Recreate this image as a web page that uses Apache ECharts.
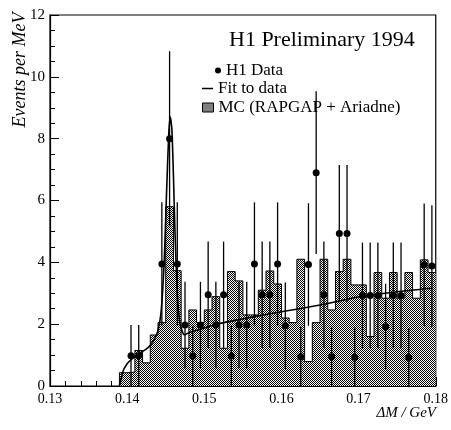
<!DOCTYPE html>
<html>
<head>
<meta charset="utf-8">
<script src="https://cdn.jsdelivr.net/npm/echarts@6/dist/echarts.min.js"></script>
<style>
html, body { margin: 0; padding: 0; background: #fff; }
#chart { width: 451px; height: 430px; }
</style>
</head>
<body>
<div id="chart"></div>
<script>
// MC histogram: 1 MeV bins, edges and heights
var binEdges = [0.139, 0.140, 0.141, 0.142, 0.143, 0.144, 0.145, 0.146, 0.147, 0.148,
    0.149, 0.150, 0.151, 0.152, 0.153, 0.154, 0.155, 0.156, 0.157, 0.158,
    0.159, 0.160, 0.161, 0.162, 0.163, 0.164, 0.165, 0.166, 0.167, 0.168,
    0.169, 0.170, 0.171, 0.172, 0.173, 0.174, 0.175, 0.176, 0.177, 0.178,
    0.179, 0.180];
var mcValues = [0.43, 0.45, 1.15, 0.75, 1.65, 2.05, 5.8, 3.73, 1.22, 2.46,
    2.05, 2.46, 2.89, 1.22, 3.7, 3.4, 2.3, 2.3, 3.1, 3.72,
    3.3, 2.2, 2.05, 4.1, 0.79, 2.05, 4.1, 2.46, 3.7, 4.1,
    3.27, 3.27, 1.6, 3.67, 2.84, 3.67, 2.84, 3.67, 2.84, 4.08,
    3.67];

// H1 data points
var dataX = [0.1405, 0.1415, 0.1445, 0.1455, 0.1465, 0.1475, 0.1485, 0.1495, 0.1505, 0.1515,
    0.1525, 0.1535, 0.1545, 0.1555, 0.1565, 0.1575, 0.1585, 0.1595, 0.1605, 0.1625,
    0.1635, 0.1645, 0.1655, 0.1665, 0.1675, 0.1685, 0.1695, 0.1705, 0.1715, 0.1725,
    0.1735, 0.1745, 0.1755, 0.1765, 0.1785, 0.1795];
var dataY = [0.98, 0.98, 3.95, 8.0, 3.95, 1.97, 0.97, 1.97, 2.95, 1.97,
    2.95, 0.97, 1.97, 1.97, 3.95, 2.95, 2.95, 3.95, 1.95, 0.95,
    3.93, 6.9, 2.95, 0.95, 4.93, 4.93, 0.93, 2.93, 2.93, 2.93,
    1.92, 2.93, 2.93, 0.92, 3.92, 3.88];
var dataErr = [0.99, 0.99, 1.99, 2.83, 1.99, 1.4, 0.98, 1.4, 1.72, 1.4,
    1.72, 0.98, 1.4, 1.4, 1.99, 1.72, 1.72, 1.99, 1.4, 0.97,
    1.98, 2.63, 1.72, 0.97, 2.22, 2.22, 0.96, 1.71, 1.71, 1.71,
    1.39, 1.71, 1.71, 0.96, 1.98, 1.97];

// fit curve
var fitX = [0.1390, 0.1395, 0.1400, 0.1405, 0.1410, 0.1415, 0.1420, 0.1425, 0.1430, 0.1435,
    0.1440, 0.1444, 0.1448, 0.1451, 0.1454, 0.1456, 0.1458, 0.1460, 0.1462, 0.1465,
    0.1468, 0.1471, 0.1474, 0.1478, 0.1490, 0.1520, 0.1560, 0.1600, 0.1650, 0.1700,
    0.1750, 0.1795];
var fitY = [0.00, 0.50, 0.72, 0.85, 0.95, 1.05, 1.12, 1.20, 1.32, 1.50,
    1.80, 2.40, 4.00, 6.20, 8.20, 8.70, 8.30, 6.80, 5.00, 3.00,
    2.10, 1.80, 1.65, 1.70, 1.80, 2.02, 2.22, 2.40, 2.62, 2.88,
    3.05, 3.16];

var yTicks = [0, 2, 4, 6, 8, 10, 12];

var serif = '"Liberation Serif", "DejaVu Serif", serif';

// fine stipple fill for the MC histogram
var pat = document.createElement('canvas');
pat.width = 4;
pat.height = 4;
var pc = pat.getContext('2d');
pc.fillStyle = '#fff';
pc.fillRect(0, 0, 4, 4);
pc.fillStyle = '#000';
pc.fillRect(0, 0, 1, 1);
pc.fillRect(1, 1, 1, 1);
pc.fillRect(2, 2, 1, 1);
pc.fillRect(3, 3, 1, 1);
pc.fillRect(2, 0, 1, 1);
pc.fillRect(0, 2, 1, 1);
pc.fillRect(3, 1, 1, 1);
pc.fillRect(1, 3, 1, 1);
var stipple = { image: pat, repeat: 'repeat' };

var histData = [[binEdges[0], 0]];
for (var i = 0; i < mcValues.length; i++) {
    histData.push([binEdges[i], mcValues[i]]);
}
histData.push([binEdges[binEdges.length - 1], mcValues[mcValues.length - 1]]);

var pointData = dataX.map(function (x, i) { return [x, dataY[i]]; });
var errData = dataX.map(function (x, i) { return [x, dataY[i] - dataErr[i], dataY[i] + dataErr[i]]; });
var fitData = fitX.map(function (x, i) { return [x, fitY[i]]; });

var chart = echarts.init(document.getElementById('chart'));

var option = {
    backgroundColor: '#fff',
    animation: false,
    title: {
        text: 'H1 Preliminary 1994',
        left: 229,
        top: 29,
        padding: 0,
        textStyle: { fontFamily: serif, fontSize: 22, fontWeight: 'normal', color: '#000' }
    },
    legend: [{
        left: 215, top: 62, padding: 0, orient: 'vertical',
        itemWidth: 6, itemHeight: 6, selectedMode: false,
        textStyle: { fontFamily: serif, fontSize: 17, color: '#000' },
        data: [{ name: 'H1 Data', icon: 'circle', itemStyle: { color: '#000' } }]
    }, {
        left: 202, top: 80, padding: 0, orient: 'vertical',
        itemWidth: 11, itemHeight: 1.5, selectedMode: false,
        textStyle: { fontFamily: serif, fontSize: 17, color: '#000' },
        data: [{ name: 'Fit to data', icon: 'rect', itemStyle: { color: '#000' } }]
    }, {
        left: 202, top: 99, padding: 0, orient: 'vertical',
        itemWidth: 11, itemHeight: 9, selectedMode: false,
        textStyle: { fontFamily: serif, fontSize: 17, color: '#000' },
        data: [{
            name: 'MC (RAPGAP + Ariadne)', icon: 'rect',
            itemStyle: { color: stipple, borderColor: '#000', borderWidth: 1 }
        }]
    }],
    grid: {
        left: 50, right: 13, top: 15, bottom: 44,
        show: true, borderColor: '#000', borderWidth: 1.2, backgroundColor: 'transparent'
    },
    xAxis: {
        type: 'value',
        min: 0.13, max: 0.18, interval: 0.01,
        axisLine: { show: true, lineStyle: { color: '#000', width: 1.2 } },
        axisTick: { inside: true, length: 9, lineStyle: { color: '#000' } },
        minorTick: { show: true, splitNumber: 5, length: 5, lineStyle: { color: '#000' } },
        splitLine: { show: false },
        axisLabel: {
            margin: 6, color: '#000', fontFamily: serif, fontSize: 14,
            formatter: function (v) { return v.toFixed(2); }
        }
    },
    yAxis: {
        type: 'value',
        min: 0, max: 12, interval: 2,
        axisLine: { show: true, lineStyle: { color: '#000', width: 1.2 } },
        axisTick: { inside: true, length: 9, lineStyle: { color: '#000' } },
        minorTick: { show: true, splitNumber: 4, length: 5, lineStyle: { color: '#000' } },
        splitLine: { show: false },
        axisLabel: {
            margin: 5, color: '#000', fontFamily: serif, fontSize: 15,
            formatter: function (v) { return yTicks.indexOf(v) >= 0 ? String(v) : ''; }
        }
    },
    graphic: [{
        type: 'text', x: 20, y: 70, rotation: Math.PI / 2,
        style: {
            text: 'Events per MeV', fill: '#000',
            font: 'italic 18px ' + serif, align: 'center', verticalAlign: 'middle'
        }
    }, {
        type: 'text', x: 436, y: 413,
        style: {
            text: 'ΔM / GeV', fill: '#000',
            font: 'italic 15px ' + serif, align: 'right', verticalAlign: 'middle'
        }
    }],
    series: [{
        name: 'MC (RAPGAP + Ariadne)',
        type: 'line',
        step: 'end',
        data: histData,
        showSymbol: false,
        color: '#000',
        lineStyle: { color: '#000', width: 1 },
        areaStyle: { color: stipple, opacity: 1 },
        z: 1
    }, {
        name: 'Fit to data',
        type: 'line',
        data: fitData,
        smooth: 0.2,
        showSymbol: false,
        color: '#000',
        lineStyle: { color: '#000', width: 1.6 },
        z: 3
    }, {
        name: 'H1 Data',
        type: 'custom',
        data: errData,
        color: '#000',
        encode: { x: 0, y: [1, 2] },
        renderItem: function (params, api) {
            var lo = api.coord([api.value(0), api.value(1)]);
            var hi = api.coord([api.value(0), api.value(2)]);
            return {
                type: 'line',
                shape: { x1: lo[0], y1: lo[1], x2: hi[0], y2: hi[1] },
                style: { stroke: '#000', lineWidth: 1.3 }
            };
        },
        z: 4
    }, {
        name: 'H1 Data',
        type: 'scatter',
        data: pointData,
        symbol: 'circle',
        symbolSize: 7,
        color: '#000',
        itemStyle: { color: '#000', opacity: 1 },
        z: 5
    }]
};

chart.setOption(option);
</script>
</body>
</html>
